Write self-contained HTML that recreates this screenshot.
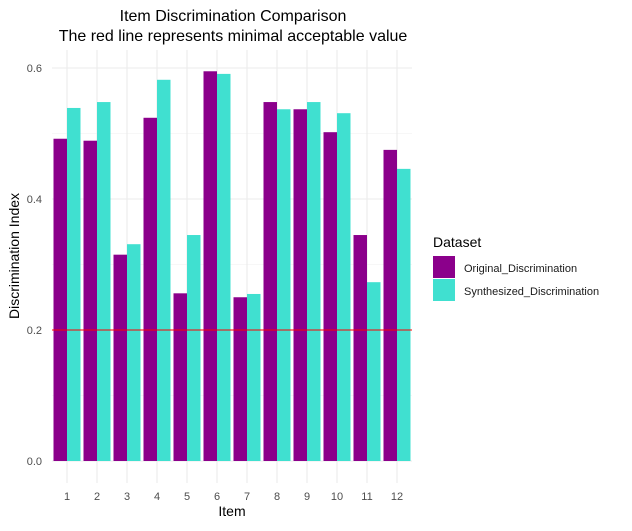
<!DOCTYPE html>
<html><head><meta charset="utf-8"><style>
body{margin:0;background:#fff;font-family:"Liberation Sans",sans-serif}
</style></head><body>
<svg id="c" width="632" height="526" xmlns="http://www.w3.org/2000/svg">
<text x="233" y="21" text-anchor="middle" font-size="16" fill="#000">Item Discrimination Comparison</text>
<text x="233" y="41" text-anchor="middle" font-size="16" fill="#000">The red line represents minimal acceptable value</text>
<g id="grid"></g><g id="bars"></g><g id="axes"></g>
<text x="232" y="516" text-anchor="middle" font-size="14">Item</text>
<text transform="translate(19,256) rotate(-90)" text-anchor="middle" font-size="14">Discrimination Index</text>
<g>
<text x="433" y="247" font-size="14">Dataset</text>
<rect x="433" y="256" width="22" height="22" fill="#8B008B"/>
<text x="464" y="272" font-size="11" fill="#1a1a1a">Original_Discrimination</text>
<rect x="433" y="279" width="22" height="22" fill="#40E0D0"/>
<text x="464" y="295" font-size="11" fill="#1a1a1a">Synthesized_Discrimination</text>
</g>
</svg>
<script>
const categories=["1","2","3","4","5","6","7","8","9","10","11","12"];
const original=[0.492,0.489,0.315,0.524,0.256,0.595,0.250,0.548,0.537,0.502,0.345,0.475];
const synthesized=[0.539,0.548,0.331,0.582,0.345,0.591,0.255,0.537,0.548,0.531,0.273,0.446];
const yTicks=[0,0.2,0.4,0.6];
const yTickLabels=["0.0","0.2","0.4","0.6"];
const threshold=0.2;
const NS="http://www.w3.org/2000/svg";
const L=52,R=412,T=50,B=461,PB=483;
const y=v=>B-v*655;
const step=(R-L)/categories.length;
const x=i=>L+step*(i+0.5);
function mk(tag,attrs,parent){const e=document.createElementNS(NS,tag);for(const k in attrs)e.setAttribute(k,attrs[k]);document.getElementById(parent).appendChild(e);return e;}
for(let v=0.1;v<0.65;v+=0.2){const g=mk('line',{x1:L,x2:R,y1:y(v),y2:y(v),stroke:'#f0f0f0','stroke-width':0.6},'grid');

}
yTicks.forEach((t,i)=>{const g=mk('line',{x1:L,x2:R,y1:y(t),y2:y(t),stroke:'#ebebeb','stroke-width':1.1},'grid');


const tx=mk('text',{x:42,y:y(t)+4,'text-anchor':'end','font-size':11,fill:'#4d4d4d'},'axes');tx.textContent=yTickLabels[i];

});
categories.forEach((c,i)=>{const g=mk('line',{x1:x(i),x2:x(i),y1:T,y2:PB,stroke:'#ebebeb','stroke-width':1.1},'grid');


const bw=step*0.9/2;
const b1=mk('rect',{x:x(i)-bw,y:y(original[i]),width:bw,height:B-y(original[i]),fill:'#8B008B'},'bars');


const b2=mk('rect',{x:x(i),y:y(synthesized[i]),width:bw,height:B-y(synthesized[i]),fill:'#40E0D0'},'bars');


const tx=mk('text',{x:x(i),y:500,'text-anchor':'middle','font-size':11,fill:'#4d4d4d'},'axes');tx.textContent=c;

});
const h=mk('line',{x1:L,x2:R,y1:y(threshold),y2:y(threshold),stroke:'#ff0000','stroke-width':1},'axes');


</script>
</body></html>
